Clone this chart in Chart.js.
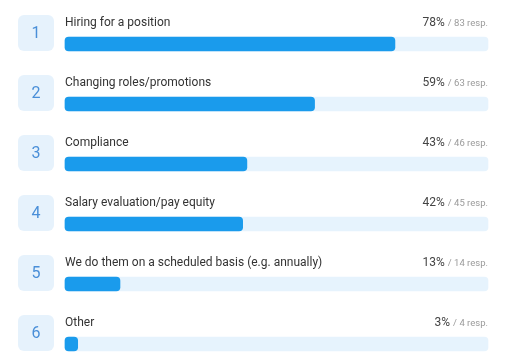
<!DOCTYPE html>
<html>
<head>
<meta charset="utf-8">
<script src="https://cdn.jsdelivr.net/npm/chart.js@4"></script>
<style>
html,body{margin:0;padding:0;background:#fff;}
#wrap{width:517px;height:360px;position:relative;}
</style>
</head>
<body>
<div id="wrap"><canvas id="c" width="517" height="360"></canvas></div>
<script>
const categories = ["Hiring for a position","Changing roles/promotions","Compliance","Salary evaluation/pay equity","We do them on a scheduled basis (e.g. annually)","Other"];
const ranks = ["1","2","3","4","5","6"];
const percents = [78,59,43,42,13,3];
const responses = [83,63,46,45,14,4];
const trackValues = [100,100,100,100,100,100];

const BAR = '#1a9bec';
const TRACK = '#e6f3fd';
const BOX = '#e6f2fc';

const overlay = {
  id:'overlay',
  afterDatasetsDraw(chart){
    const ctx = chart.ctx;
    const meta = chart.getDatasetMeta(0);
    const left = chart.chartArea.left, right = chart.chartArea.right;
    ctx.save();
    meta.data.forEach((bar,i)=>{
      const y = bar.y;
      // rank box
      const bx = left-47, by = y-29, bw = 36, bh = 36;
      ctx.fillStyle = BOX;
      ctx.beginPath();
      ctx.roundRect(bx,by,bw,bh,6);
      ctx.fill();
      ctx.fillStyle = '#4a8fd8';
      ctx.font = '16px Roboto';
      ctx.textAlign = 'center';
      ctx.textBaseline = 'middle';
      ctx.fillText(ranks[i], bx+bw/2, by+bh/2+1);
      // label
      ctx.textBaseline = 'alphabetic';
      ctx.textAlign = 'left';
      ctx.fillStyle = '#333';
      ctx.font = '12px Roboto';
      ctx.fillText(categories[i], left, y-18.5);
      // right text
      ctx.textAlign = 'right';
      ctx.font = '9.5px Roboto';
      ctx.fillStyle = '#9a9a9a';
      const resp = '/ ' + responses[i] + ' resp.';
      ctx.fillText(resp, right, y-18.5);
      const rw = ctx.measureText(resp).width;
      ctx.font = '12px Roboto';
      ctx.fillStyle = '#444';
      ctx.fillText(percents[i] + '%', right - rw - 3, y-18.5);
    });
    ctx.restore();
  }
};

new Chart(document.getElementById('c'), {
  type:'bar',
  data:{
    labels: categories,
    datasets:[
      {data: percents, backgroundColor: BAR, barThickness:14, borderRadius:4, borderSkipped:false, grouped:false, clip:false},
      {data: trackValues, backgroundColor: TRACK, barThickness:14, borderRadius:4, borderSkipped:false, grouped:false, clip:false}
    ]
  },
  options:{
    indexAxis:'y',
    responsive:false,
    animation:false,
    layout:{padding:{left:65,right:29,top:44,bottom:16}},
    plugins:{legend:{display:false},tooltip:{enabled:false}},
    scales:{
      x:{display:false,min:0,max:100},
      y:{display:false,offset:false}
    }
  },
  plugins:[overlay]
});
</script>
</body>
</html>
